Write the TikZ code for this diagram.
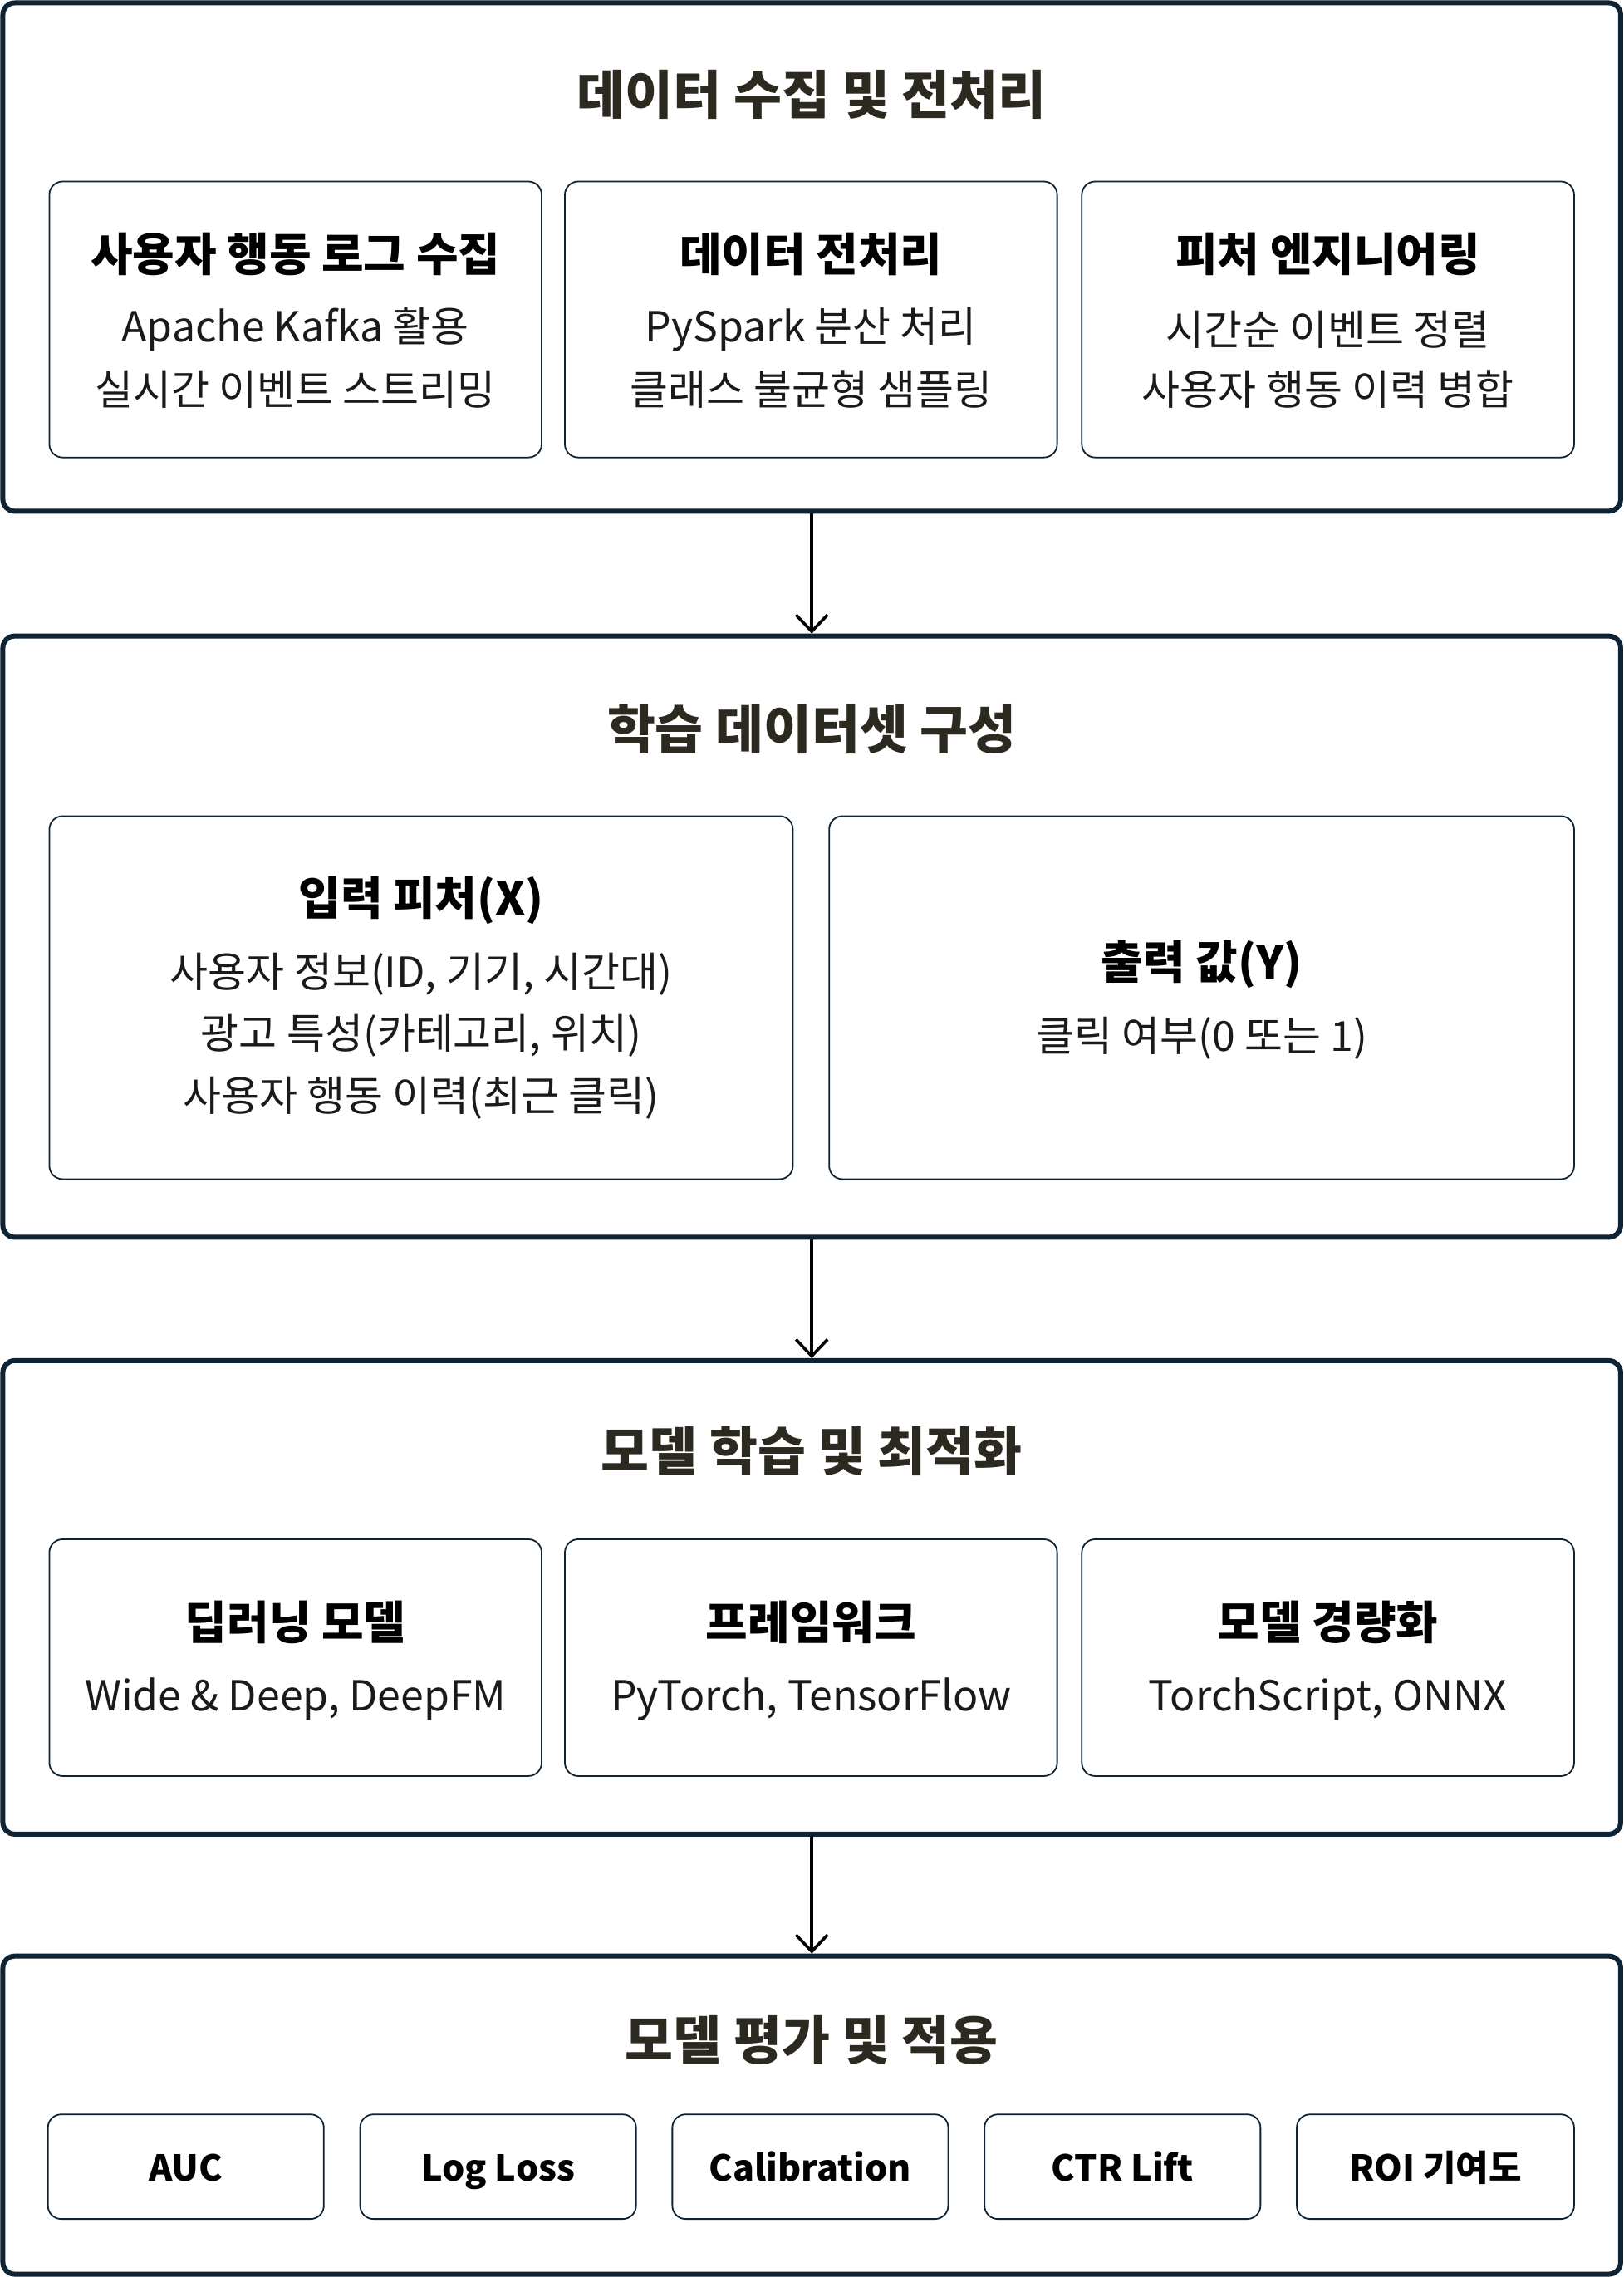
\documentclass[tikz,border=0pt]{standalone}
\usepackage{fontspec}
\setmainfont{Noto Sans CJK KR}
\usetikzlibrary{arrows.meta,fit}
\definecolor{navy}{HTML}{0E2333}
\definecolor{ttl}{HTML}{2C2A20}
\definecolor{txt}{HTML}{1A1A1A}
\begin{document}
\begin{tikzpicture}[x=1.7487pt,y=-1.7487pt,
  outer/.style={draw=navy,line width=6pt,rounded corners=14pt,inner sep=0pt},
  card/.style={draw=navy,line width=1.8pt,rounded corners=16pt,inner sep=0pt},
  mtitle/.style={font=\fontsize{63}{74}\selectfont\bfseries,text=ttl,inner sep=0pt},
  ctitle/.style={font=\fontsize{55}{64}\selectfont\bfseries,text=black,inner sep=0pt},
  body/.style={font=\fontsize{50}{60}\selectfont,text=txt,inner sep=0pt},
  evtext/.style={font=\fontsize{43}{52}\selectfont\bfseries,text=black,inner sep=0pt,anchor=base},
  arr/.style={draw=black,line width=3.6pt,-{Straight Barb[length=20pt,width=38pt,line width=3.6pt]}}]
\fill[white] (0,0) rectangle (1118,1568);
\useasboundingbox (0,0) rectangle (1118,1568);

% ---------- Stage 1 ----------
\node[outer,fit={(2,2)(1116,352)}] (b1) {};
\node[mtitle] (b1t) at (559,65) {데이터 수집 및 전처리};
\node[card,fit={(34,125)(373,315)}] (c11) {};
\node[card,fit={(389,125)(728,315)}] (c12) {};
\node[card,fit={(745,125)(1084,315)}] (c13) {};
\node[ctitle] (c11t) at (203.5,175) {사용자 행동 로그 수집};
\node[body] (c11a) at (203.5,227) {Apache Kafka 활용};
\node[body] (c11b) at (203.5,268) {실시간 이벤트 스트리밍};
\node[ctitle] (c12t) at (558.5,175) {데이터 전처리};
\node[body] (c12a) at (558.5,227) {PySpark 분산 처리};
\node[body] (c12b) at (558.5,268) {클래스 불균형 샘플링};
\node[ctitle] (c13t) at (914.5,175) {피처 엔지니어링};
\node[body] (c13a) at (914.5,227) {시간순 이벤트 정렬};
\node[body] (c13b) at (914.5,268) {사용자 행동 이력 병합};

% ---------- Stage 2 ----------
\node[outer,fit={(2,438)(1116,852)}] (b2) {};
\node[mtitle] (b2t) at (559,502) {학습 데이터셋 구성};
\node[card,fit={(34,562)(546,812)}] (c21) {};
\node[card,fit={(571,562)(1084,812)}] (c22) {};
\node[ctitle] (c21t) at (290,620) {입력 피처(X)};
\node[body] (c21a) at (290,671) {사용자 정보(ID, 기기, 시간대)};
\node[body] (c21b) at (290,713) {광고 특성(카테고리, 위치)};
\node[body] (c21c) at (290,756) {사용자 행동 이력(최근 클릭)};
\node[ctitle] (c22t) at (827.5,664) {출력 값(Y)};
\node[body] (c22a) at (827.5,715) {클릭 여부(0 또는 1)};

% ---------- Stage 3 ----------
\node[outer,fit={(2,937)(1116,1263)}] (b3) {};
\node[mtitle] (b3t) at (559,999) {모델 학습 및 최적화};
\node[card,fit={(34,1060)(373,1223)}] (c31) {};
\node[card,fit={(389,1060)(728,1223)}] (c32) {};
\node[card,fit={(745,1060)(1084,1223)}] (c33) {};
\node[ctitle] (c31t) at (203.5,1117) {딥러닝 모델};
\node[body] (c31a) at (203.5,1170) {Wide \& Deep, DeepFM};
\node[ctitle] (c32t) at (558.5,1117) {프레임워크};
\node[body] (c32a) at (558.5,1170) {PyTorch, TensorFlow};
\node[ctitle] (c33t) at (914.5,1117) {모델 경량화};
\node[body] (c33a) at (914.5,1170) {TorchScript, ONNX};

% ---------- Stage 4 ----------
\node[outer,fit={(2,1347)(1116,1566)}] (b4) {};
\node[mtitle] (b4t) at (559,1405) {모델 평가 및 적용};
\node[card,fit={(33,1456)(223,1528)}] (c41) {};
\node[card,fit={(248,1456)(438,1528)}] (c42) {};
\node[card,fit={(463,1456)(653,1528)}] (c43) {};
\node[card,fit={(678,1456)(868,1528)}] (c44) {};
\node[card,fit={(893,1456)(1084,1528)}] (c45) {};
\node[evtext] (c41t) at (128,1502) {AUC};
\node[evtext] (c42t) at (343,1502) {Log Loss};
\node[evtext] (c43t) at (558,1502) {Calibration};
\node[evtext] (c44t) at (773,1502) {CTR Lift};
\node[evtext] (c45t) at (988.5,1502) {ROI 기여도};

% ---------- Connectors ----------
\draw[arr] (b1.south) -- (b2.north);
\draw[arr] (b2.south) -- (b3.north);
\draw[arr] (b3.south) -- (b4.north);
\end{tikzpicture}
\end{document}
